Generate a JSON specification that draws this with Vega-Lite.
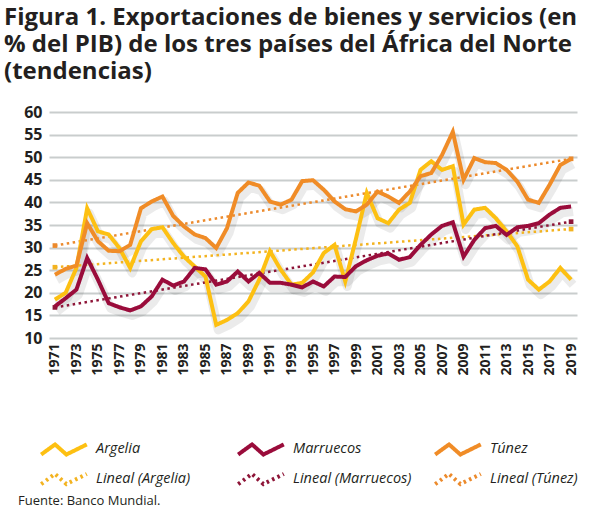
{
  "$schema": "https://vega.github.io/schema/vega-lite/v6.json",
  "width": 528,
  "height": 226,
  "padding": {"left": 4, "top": 6, "right": 0, "bottom": 0},
  "background": "white",
  "title": {
    "text": ["Figura 1. Exportaciones de bienes y servicios (en", "% del PIB) de los tres países del África del Norte", "(tendencias)"],
    "anchor": "start",
    "frame": "bounds",
    "font": "Open Sans",
    "fontSize": 24,
    "fontWeight": "bold",
    "color": "#231f20",
    "lineHeight": 27,
    "offset": 20
  },
  "data": {
    "values": [
      {"year": 1971, "Argelia": 18.5, "Marruecos": 17.0, "Túnez": 24.0},
      {"year": 1972, "Argelia": 20.0, "Marruecos": 18.8, "Túnez": 25.3},
      {"year": 1973, "Argelia": 25.5, "Marruecos": 20.7, "Túnez": 26.0},
      {"year": 1974, "Argelia": 38.7, "Marruecos": 27.7, "Túnez": 35.4},
      {"year": 1975, "Argelia": 33.6, "Marruecos": 22.9, "Túnez": 31.4},
      {"year": 1976, "Argelia": 32.9, "Marruecos": 17.7, "Túnez": 29.3},
      {"year": 1977, "Argelia": 29.9, "Marruecos": 16.8, "Túnez": 29.2},
      {"year": 1978, "Argelia": 25.5, "Marruecos": 16.1, "Túnez": 30.6},
      {"year": 1979, "Argelia": 31.4, "Marruecos": 17.0, "Túnez": 38.7},
      {"year": 1980, "Argelia": 34.1, "Marruecos": 19.2, "Túnez": 40.2},
      {"year": 1981, "Argelia": 34.5, "Marruecos": 22.9, "Túnez": 41.3},
      {"year": 1982, "Argelia": 31.0, "Marruecos": 21.6, "Túnez": 37.0},
      {"year": 1983, "Argelia": 28.0, "Marruecos": 22.5, "Túnez": 34.7},
      {"year": 1984, "Argelia": 25.8, "Marruecos": 25.5, "Túnez": 32.9},
      {"year": 1985, "Argelia": 23.6, "Marruecos": 25.2, "Túnez": 32.1},
      {"year": 1986, "Argelia": 12.9, "Marruecos": 21.8, "Túnez": 29.9},
      {"year": 1987, "Argelia": 14.0, "Marruecos": 22.5, "Túnez": 34.3},
      {"year": 1988, "Argelia": 15.5, "Marruecos": 24.7, "Túnez": 42.1},
      {"year": 1989, "Argelia": 18.1, "Marruecos": 22.5, "Túnez": 44.4},
      {"year": 1990, "Argelia": 22.9, "Marruecos": 24.4, "Túnez": 43.7},
      {"year": 1991, "Argelia": 29.2, "Marruecos": 22.2, "Túnez": 40.2},
      {"year": 1992, "Argelia": 25.1, "Marruecos": 22.2, "Túnez": 39.5},
      {"year": 1993, "Argelia": 21.8, "Marruecos": 21.8, "Túnez": 40.6},
      {"year": 1994, "Argelia": 22.2, "Marruecos": 21.2, "Túnez": 44.7},
      {"year": 1995, "Argelia": 24.5, "Marruecos": 22.5, "Túnez": 44.9},
      {"year": 1996, "Argelia": 28.8, "Marruecos": 21.4, "Túnez": 42.8},
      {"year": 1997, "Argelia": 30.6, "Marruecos": 23.6, "Túnez": 40.2},
      {"year": 1998, "Argelia": 22.5, "Marruecos": 23.5, "Túnez": 38.5},
      {"year": 1999, "Argelia": 32.0, "Marruecos": 25.9, "Túnez": 38.0},
      {"year": 2000, "Argelia": 42.1, "Marruecos": 27.2, "Túnez": 39.5},
      {"year": 2001, "Argelia": 36.5, "Marruecos": 28.2, "Túnez": 42.4},
      {"year": 2002, "Argelia": 35.4, "Marruecos": 28.7, "Túnez": 41.3},
      {"year": 2003, "Argelia": 38.4, "Marruecos": 27.3, "Túnez": 39.9},
      {"year": 2004, "Argelia": 39.9, "Marruecos": 27.9, "Túnez": 42.4},
      {"year": 2005, "Argelia": 47.2, "Marruecos": 30.6, "Túnez": 45.8},
      {"year": 2006, "Argelia": 49.1, "Marruecos": 32.9, "Túnez": 46.5},
      {"year": 2007, "Argelia": 47.2, "Marruecos": 34.8, "Túnez": 50.5},
      {"year": 2008, "Argelia": 48.0, "Marruecos": 35.6, "Túnez": 55.6},
      {"year": 2009, "Argelia": 35.1, "Marruecos": 28.0, "Túnez": 45.0},
      {"year": 2010, "Argelia": 38.4, "Marruecos": 31.7, "Túnez": 49.8},
      {"year": 2011, "Argelia": 38.8, "Marruecos": 34.3, "Túnez": 48.9},
      {"year": 2012, "Argelia": 36.5, "Marruecos": 34.8, "Túnez": 48.7},
      {"year": 2013, "Argelia": 33.6, "Marruecos": 32.8, "Túnez": 47.2},
      {"year": 2014, "Argelia": 30.3, "Marruecos": 34.5, "Túnez": 44.6},
      {"year": 2015, "Argelia": 22.9, "Marruecos": 34.8, "Túnez": 40.6},
      {"year": 2016, "Argelia": 20.7, "Marruecos": 35.4, "Túnez": 39.9},
      {"year": 2017, "Argelia": 22.5, "Marruecos": 37.3, "Túnez": 43.9},
      {"year": 2018, "Argelia": 25.5, "Marruecos": 38.8, "Túnez": 48.3},
      {"year": 2019, "Argelia": 22.9, "Marruecos": 39.1, "Túnez": 49.6}
    ]
  },
  "transform": [
    {"fold": ["Argelia", "Marruecos", "Túnez"], "as": ["country", "value"]}
  ],
  "encoding": {
    "x": {
      "field": "year",
      "type": "quantitative",
      "scale": {"domain": [1970.45, 2019.55], "nice": false, "zero": false},
      "axis": {
        "values": [1971, 1973, 1975, 1977, 1979, 1981, 1983, 1985, 1987, 1989, 1991, 1993, 1995, 1997, 1999, 2001, 2003, 2005, 2007, 2009, 2011, 2013, 2015, 2017, 2019],
        "format": "d",
        "labelAngle": -90,
        "labelFont": "Open Sans",
        "labelFontWeight": "bold",
        "labelFontSize": 14,
        "labelColor": "#231f20",
        "labelPadding": 5,
        "labelFlush": false,
        "labelOverlap": false,
        "grid": false,
        "ticks": false,
        "domain": false,
        "title": null
      }
    },
    "y": {
      "field": "value",
      "type": "quantitative",
      "scale": {"domain": [10, 60], "nice": false, "zero": false},
      "axis": {
        "values": [10, 15, 20, 25, 30, 35, 40, 45, 50, 55, 60],
        "labelFont": "Open Sans",
        "labelFontWeight": "bold",
        "labelFontSize": 16,
        "labelColor": "#231f20",
        "labelPadding": 7,
        "grid": true,
        "gridColor": "#c9cdcd",
        "gridWidth": 2,
        "ticks": false,
        "domain": false,
        "title": null,
        "minExtent": 45
      }
    }
  },
  "layer": [
    {
      "mark": {"type": "line", "strokeWidth": 9, "color": "#000000", "opacity": 0.08, "xOffset": 2, "yOffset": 5, "strokeJoin": "round"},
      "encoding": {"detail": {"field": "country"}}
    },
    {
      "transform": [
        {"regression": "value", "on": "year", "groupby": ["country"], "extent": [1971, 2019]},
        {"calculate": "'Lineal (' + datum.country + ')'", "as": "series"}
      ],
      "layer": [
        {
          "mark": {"type": "line", "strokeWidth": 2.5, "strokeCap": "butt"},
          "encoding": {
            "color": {"field": "series", "type": "nominal"},
            "strokeDash": {"field": "series", "type": "nominal"}
          }
        },
        {
          "mark": {"type": "point", "shape": "square", "filled": true, "size": 22, "opacity": 1},
          "encoding": {
            "fill": {
              "field": "series",
              "type": "nominal",
              "legend": null,
              "scale": {
                "domain": ["Lineal (Argelia)", "Lineal (Marruecos)", "Lineal (Túnez)"],
                "range": ["#f3b320", "#8e1538", "#ec8a2c"]
              }
            }
          }
        }
      ]
    },
    {
      "transform": [{"calculate": "datum.country", "as": "series"}],
      "mark": {"type": "line", "strokeWidth": 4},
      "encoding": {
        "color": {
          "field": "series",
          "type": "nominal",
          "scale": {
            "domain": ["Argelia", "Marruecos", "Túnez", "Lineal (Argelia)", "Lineal (Marruecos)", "Lineal (Túnez)"],
            "range": ["#fdc012", "#9a0c3b", "#f08c27", "#f3b320", "#8e1538", "#ec8a2c"]
          },
          "legend": {
            "orient": "none",
            "legendX": -31,
            "legendY": 323,
            "columns": 3,
            "direction": "horizontal",
            "gridAlign": "all",
            "symbolType": "M-1.9,0.42L-0.75,-0.42L0.2,0.42L1.9,-0.42",
            "symbolSize": 576,
            "symbolOffset": 32,
            "symbolStrokeWidth": 4,
            "symbolFillColor": "transparent",
            "labelFont": "Open Sans",
            "labelFontStyle": "italic",
            "labelFontSize": 14.5,
            "labelColor": "#231f20",
            "labelOffset": 18,
            "labelLimit": 300,
            "rowPadding": 2,
            "columnPadding": -7,
            "padding": 0,
            "title": "Fuente: Banco Mundial.",
            "titleOrient": "bottom",
            "titleAnchor": "start",
            "titlePadding": 3,
            "titleFont": "Open Sans",
            "titleFontSize": 13,
            "titleFontWeight": "normal",
            "titleColor": "#231f20"
          }
        },
        "strokeDash": {
          "field": "series",
          "type": "nominal",
          "scale": {
            "domain": ["Argelia", "Marruecos", "Túnez", "Lineal (Argelia)", "Lineal (Marruecos)", "Lineal (Túnez)"],
            "range": [[1, 0], [1, 0], [1, 0], [2.5, 3.5], [2.5, 3.5], [2.5, 3.5]]
          },
          "legend": {
            "orient": "none",
            "legendX": -31,
            "legendY": 323,
            "columns": 3,
            "direction": "horizontal",
            "gridAlign": "all",
            "symbolType": "M-1.9,0.42L-0.75,-0.42L0.2,0.42L1.9,-0.42",
            "symbolSize": 576,
            "symbolOffset": 32,
            "symbolStrokeWidth": 4,
            "symbolFillColor": "transparent",
            "labelFont": "Open Sans",
            "labelFontStyle": "italic",
            "labelFontSize": 14.5,
            "labelColor": "#231f20",
            "labelOffset": 18,
            "labelLimit": 300,
            "rowPadding": 2,
            "columnPadding": -7,
            "padding": 0,
            "title": "Fuente: Banco Mundial.",
            "titleOrient": "bottom",
            "titleAnchor": "start",
            "titlePadding": 3,
            "titleFont": "Open Sans",
            "titleFontSize": 13,
            "titleFontWeight": "normal",
            "titleColor": "#231f20"
          }
        }
      }
    }
  ],
  "resolve": {"scale": {"color": "shared", "strokeDash": "shared"}},
  "config": {
    "view": {"stroke": null}
  }
}
